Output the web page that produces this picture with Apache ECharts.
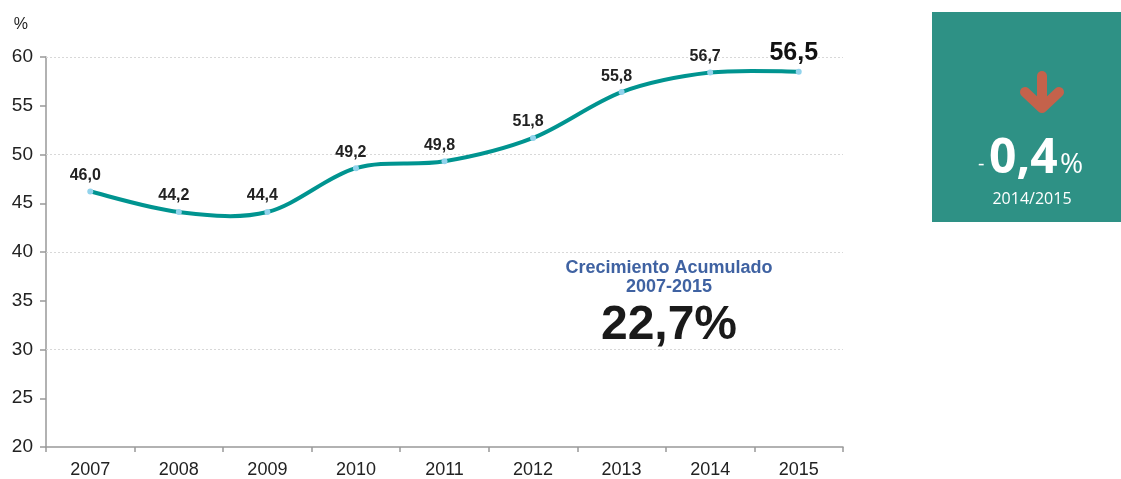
<!DOCTYPE html>
<html>
<head>
<meta charset="utf-8">
<script src="https://cdn.jsdelivr.net/npm/echarts@6/dist/echarts.min.js"></script>
<style>
  html, body { margin: 0; padding: 0; background: #fff; }
  #chart { width: 1121px; height: 479px; }
</style>
</head>
<body>
<div id="chart"></div>
<script>
// years on the x axis
const years = ['2007', '2008', '2009', '2010', '2011', '2012', '2013', '2014', '2015']
// position of the line as drawn in the picture
const plotted = [46.2, 44.1, 44.1, 48.6, 49.3, 51.7, 56.4, 58.4, 58.5]
// value labels printed above the points
const pointLabels = ['46,0', '44,2', '44,4', '49,2', '49,8', '51,8', '55,8', '56,7', '56,5']
const yTicks = [20, 25, 30, 35, 40, 45, 50, 55, 60]
const gridLines = [30, 40, 50, 60]

const axisColor = '#999'
const textColor = '#222'
const lineColor = '#009490'
const lastIdx = plotted.length - 1

const chart = echarts.init(document.getElementById('chart'))

// catmull-rom curve through all points, drawn once from the first item
function renderCurve(params, api) {
  if (params.dataIndex !== 0) return null
  const pts = plotted.map((v, i) => api.coord([i, v]))
  const children = []
  for (let i = 0; i < pts.length - 1; i++) {
    const p0 = pts[Math.max(i - 1, 0)]
    const p1 = pts[i]
    const p2 = pts[i + 1]
    const p3 = pts[Math.min(i + 2, pts.length - 1)]
    children.push({
      type: 'bezierCurve',
      shape: {
        x1: p1[0], y1: p1[1],
        cpx1: p1[0] + (p2[0] - p0[0]) / 6, cpy1: p1[1] + (p2[1] - p0[1]) / 6,
        cpx2: p2[0] - (p3[0] - p1[0]) / 6, cpy2: p2[1] - (p3[1] - p1[1]) / 6,
        x2: p2[0], y2: p2[1],
      },
      style: { stroke: lineColor, lineWidth: 4, fill: null, lineCap: 'round' },
    })
  }
  return { type: 'group', children }
}

const option = {
  backgroundColor: '#fff',
  animation: false,
  grid: { left: 46, right: 278, top: 57, bottom: 32 },
  xAxis: {
    type: 'category',
    data: years,
    boundaryGap: true,
    axisLine: { lineStyle: { color: axisColor, width: 1.5 } },
    axisTick: { show: true, length: 5, lineStyle: { color: axisColor, width: 1.5 } },
    axisLabel: { color: textColor, fontSize: 18, fontFamily: 'Liberation Sans, Arial', margin: 14 },
  },
  yAxis: {
    type: 'value',
    min: yTicks[0],
    max: yTicks[yTicks.length - 1],
    interval: 5,
    name: '%',
    nameLocation: 'end',
    nameGap: 24,
    nameTextStyle: { color: textColor, fontSize: 16, fontFamily: 'Liberation Sans, Arial', align: 'right', padding: [0, 18, 0, 0] },
    axisLine: { show: true, lineStyle: { color: axisColor, width: 1.5 } },
    axisTick: { show: true, length: 6, lineStyle: { color: axisColor, width: 1.5 } },
    axisLabel: { color: textColor, fontSize: 19, fontFamily: 'Liberation Sans, Arial', margin: 13 },
    splitLine: { show: false },
  },
  series: [
    {
      // dotted grid lines every 10
      type: 'line',
      data: [],
      z: 1,
      markLine: {
        z: 1,
        silent: true,
        symbol: 'none',
        label: { show: false },
        lineStyle: { color: '#d8d8d8', type: [2, 2], width: 1 },
        data: gridLines.map((v) => ({ yAxis: v })),
      },
    },
    {
      type: 'custom',
      data: plotted.map((v, i) => [i, v]),
      encode: { x: 0, y: 1 },
      renderItem: renderCurve,
      z: 3,
      silent: true,
    },
    {
      // markers and value labels
      type: 'line',
      data: plotted,
      z: 4,
      lineStyle: { width: 0, opacity: 0 },
      itemStyle: { color: '#92d3ec' },
      symbol: 'circle',
      symbolSize: 6,
      showAllSymbol: true,
      label: {
        show: true,
        position: 'top',
        distance: 5,
        offset: [-5, 0],
        formatter: (p) => p.dataIndex === lastIdx
          ? '{big|' + pointLabels[p.dataIndex] + '}'
          : '{n|' + pointLabels[p.dataIndex] + '}',
        rich: {
          n: { fontSize: 16, fontWeight: 'bold', color: textColor, fontFamily: 'Liberation Sans, Arial' },
          big: { fontSize: 25, fontWeight: 'bold', color: '#111', fontFamily: 'Liberation Sans, Arial', padding: [0, 0, -2, 0] },
        },
      },
    },
  ],
  graphic: [
    {
      type: 'text',
      x: 669, y: 268,
      style: {
        text: 'Crecimiento Acumulado', align: 'center', verticalAlign: 'middle',
        fill: '#3f62a2', font: 'bold 18px "Liberation Sans", Arial',
      },
    },
    {
      type: 'text',
      x: 669, y: 287,
      style: {
        text: '2007-2015', align: 'center', verticalAlign: 'middle',
        fill: '#3f62a2', font: 'bold 18px "Liberation Sans", Arial',
      },
    },
    {
      type: 'text',
      x: 669, y: 326,
      style: {
        text: '22,7%', align: 'center', verticalAlign: 'middle',
        fill: '#1a1a1a', font: 'bold 48px "Liberation Sans", Arial',
      },
    },
    // summary box on the right
    {
      type: 'rect',
      shape: { x: 932, y: 12, width: 189, height: 210 },
      style: { fill: '#2e9185' },
    },
    {
      type: 'polyline',
      shape: { points: [[1042, 76], [1042, 104]] },
      style: { stroke: '#c4624b', lineWidth: 10, lineCap: 'round', fill: null },
    },
    {
      type: 'polyline',
      shape: { points: [[1025, 92], [1042, 108], [1059, 92]] },
      style: { stroke: '#c4624b', lineWidth: 10, lineCap: 'round', lineJoin: 'round', fill: null },
    },
    {
      type: 'text',
      x: 978, y: 164,
      style: { text: '-', align: 'left', verticalAlign: 'middle', fill: '#fff', font: '20px "Open Sans"' },
    },
    {
      type: 'text',
      x: 989, y: 159,
      style: { text: '0,4', align: 'left', verticalAlign: 'middle', fill: '#fff', font: 'bold 48px "Open Sans"' },
    },
    {
      type: 'text',
      x: 1060, y: 165,
      style: { text: '%', align: 'left', verticalAlign: 'middle', fill: '#fff', font: '28px "Open Sans"' },
    },
    {
      type: 'text',
      x: 1032, y: 199,
      style: { text: '2014/2015', align: 'center', verticalAlign: 'middle', fill: '#fff', font: '16px "Open Sans"' },
    },
  ],
}

chart.setOption(option)
window.addEventListener('resize', () => chart.resize())
</script>
</body>
</html>
